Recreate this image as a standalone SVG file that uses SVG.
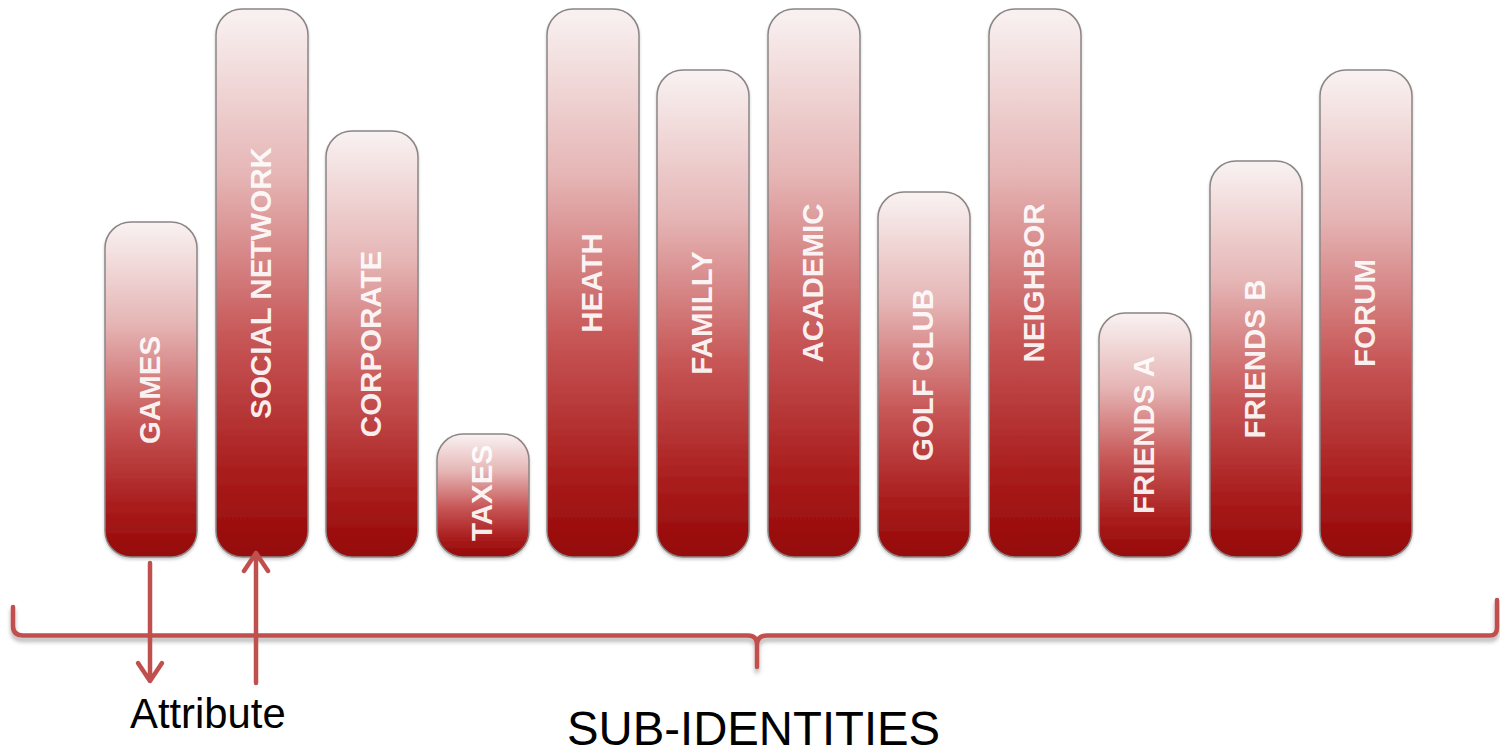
<svg xmlns="http://www.w3.org/2000/svg" width="1500" height="755" viewBox="0 0 1500 755">
  <defs>
    <linearGradient id="barFill" x1="0" y1="0" x2="0" y2="1">
      <stop offset="0" stop-color="#f9f2f2"/>
      <stop offset="0.3" stop-color="#e6b6b6"/>
      <stop offset="0.6" stop-color="#c75656"/>
      <stop offset="0.85" stop-color="#a91c1c"/>
      <stop offset="1" stop-color="#950808"/>
    </linearGradient>
    <filter id="soft" x="-5%" y="-50%" width="110%" height="200%">
      <feDropShadow dx="0" dy="4" stdDeviation="2" flood-color="#000" flood-opacity="0.3"/>
    </filter>
    <filter id="barShadow" x="-10%" y="-5%" width="120%" height="110%">
      <feDropShadow dx="0" dy="2" stdDeviation="1.5" flood-color="#000" flood-opacity="0.2"/>
    </filter>
    <style>
      .bar { fill: url(#barFill); stroke: #8c8585; stroke-width: 1.5; filter: url(#barShadow); }
      .lbl { font-family: "Liberation Sans", Arial, sans-serif; font-weight: bold; font-size: 29.5px; fill: #ffffff; fill-opacity: 0.92; text-anchor: middle; dominant-baseline: central; }
      .conn { fill: none; stroke: #c0504d; stroke-width: 4.5; stroke-linecap: round; stroke-linejoin: round; }
      .caption { font-family: "Liberation Sans", Arial, sans-serif; fill: #000000; }
    </style>
  </defs>

  <rect width="1500" height="755" fill="#ffffff"/>

  <!-- sub-identity bars -->
  <g id="games"><rect class="bar" x="105" y="222" width="92" height="335" rx="26"/><text class="lbl" transform="translate(149,390) rotate(-90)">GAMES</text></g>
  <g id="social-network"><rect class="bar" x="216" y="9" width="92" height="548" rx="26"/><text class="lbl" transform="translate(260,283) rotate(-90)">SOCIAL NETWORK</text></g>
  <g id="corporate"><rect class="bar" x="326" y="131" width="92" height="426" rx="26"/><text class="lbl" transform="translate(370,344) rotate(-90)">CORPORATE</text></g>
  <g id="taxes"><rect class="bar" x="437" y="434" width="92" height="123" rx="26"/><text class="lbl" transform="translate(481,493) rotate(-90)">TAXES</text></g>
  <g id="heath"><rect class="bar" x="547" y="9" width="92" height="548" rx="26"/><text class="lbl" transform="translate(591,283) rotate(-90)">HEATH</text></g>
  <g id="familly"><rect class="bar" x="657" y="70" width="92" height="487" rx="26"/><text class="lbl" transform="translate(701,313) rotate(-90)">FAMILLY</text></g>
  <g id="academic"><rect class="bar" x="768" y="9" width="92" height="548" rx="26"/><text class="lbl" transform="translate(812,283) rotate(-90)">ACADEMIC</text></g>
  <g id="golf-club"><rect class="bar" x="878" y="192" width="92" height="365" rx="26"/><text class="lbl" transform="translate(922,375) rotate(-90)">GOLF CLUB</text></g>
  <g id="neighbor"><rect class="bar" x="989" y="9" width="92" height="548" rx="26"/><text class="lbl" transform="translate(1033,283) rotate(-90)">NEIGHBOR</text></g>
  <g id="friends-a"><rect class="bar" x="1099" y="313" width="92" height="244" rx="26"/><text class="lbl" transform="translate(1143,435) rotate(-90)">FRIENDS A</text></g>
  <g id="friends-b"><rect class="bar" x="1210" y="161" width="92" height="396" rx="26"/><text class="lbl" transform="translate(1254,359) rotate(-90)">FRIENDS B</text></g>
  <g id="forum"><rect class="bar" x="1320" y="70" width="92" height="487" rx="26"/><text class="lbl" transform="translate(1364,313) rotate(-90)">FORUM</text></g>

  <!-- brace and attribute arrows -->
  <g id="connectors">
    <path class="conn" filter="url(#soft)" d="M13,607 L13,626 Q13,635.5 23,635.5 L748,635.5 Q757,635.5 757,645 L757,667 L757,645 Q757,635.5 767,635.5 L1490,635.5 Q1497,635.5 1497,628 L1497,600"/>
    <path class="conn" d="M150,563 L150,681 M138,663 L150,681 L162,663"/>
    <path class="conn" d="M256,683 L256,553 M244,571 L256,553 L268,571"/>
  </g>

  <!-- captions -->
  <g id="attribute-label"><text class="caption" x="130" y="728" font-size="41.8">Attribute</text></g>
  <g id="sub-identities-label"><text class="caption" x="567" y="745" font-size="47.3">SUB-IDENTITIES</text></g>
</svg>
